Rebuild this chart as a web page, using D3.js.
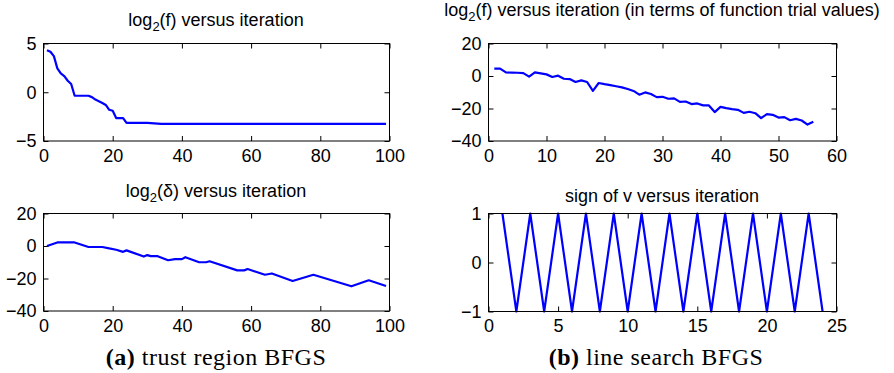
<!DOCTYPE html>
<html>
<head>
<meta charset="utf-8">
<script src="https://cdn.jsdelivr.net/npm/d3@7"></script>
<style>
  body { margin: 0; background: #fff; }
  svg { display: block; }
  .tick text { font-family: "Liberation Sans", Arial, Helvetica, sans-serif; font-size: 18px; fill: #000; }
  .tick line { stroke: #000; }
  .ptitle { font-family: "Liberation Sans", Arial, Helvetica, sans-serif; font-size: 18px; fill: #000; }
  .caption { font-family: "Liberation Serif", "DejaVu Serif", serif; font-size: 24px; letter-spacing: 0.5px; fill: #000; }
</style>
</head>
<body>
<div id="chart"></div>
<script>
// (a) trust region BFGS: log2(f) per iteration (breakpoints)
const trIterF = [1, 2, 3, 4, 5, 6, 7, 8, 9, 10, 11, 12, 13, 14, 15, 16, 17, 18, 19, 20, 21, 22, 23, 24, 30, 34, 99];
const trLogF  = [4.3, 4.15, 3.7, 2.45, 1.93, 1.66, 1.18, 0.84, -0.36, -0.36, -0.36, -0.36, -0.36, -0.5, -0.75, -0.92,
                 -1.1, -1.3, -1.8, -1.9, -2.65, -2.65, -2.65, -3.15, -3.15, -3.25, -3.25];

// (a) trust region BFGS: log2(delta)
const trIterD = [1, 4, 9, 13, 17, 19, 21, 23, 24, 29, 30, 31, 33, 36, 38, 40, 41, 45, 47, 48, 56, 58, 59, 64, 66, 72, 78, 89, 94, 99];
const trLogD  = [0, 2.2, 2.2, -0.6, -0.6, -1.5, -2.3, -3.6, -2.7, -6.5, -5.6, -6.25, -6.25, -8.75, -8.1, -8.1, -6.9, -10, -10,
                 -9.4, -15, -15, -14.2, -17.7, -16.9, -21.5, -17.7, -24.8, -21.1, -24.6];

// (b) line search BFGS: log2(f) in terms of function trial values
const lsIterF = d3.range(1, 57);
const lsLogF  = [4.5, 4.5, 2.2, 2.1, 2.0, 1.8, -0.4, 2.2, 1.6, 1.0, -0.6, 0.2, -1.7, -1.9, -3.7, -2.7, -3.7, -9.1, -4.3, -5.0,
                 -5.6, -6.3, -7.0, -8.0, -9.2, -11.5, -10.1, -11.1, -13.0, -12.8, -14.0, -13.8, -15.9, -15.7, -17.3, -16.9,
                 -18.1, -18.1, -22.2, -19.0, -19.8, -20.4, -20.8, -22.7, -22.0, -22.9, -25.9, -23.5, -23.9, -25.6, -25.3,
                 -27.2, -26.4, -27.4, -29.9, -28.2];

// (b) sign of v
const lsIterV = d3.range(1, 25);
const lsSignV = [1, -1, 1, -1, 1, -1, 1, -1, 1, -1, 1, -1, 1, -1, 1, -1, 1, -1, 1, -1, 1, -1, 1, -1];

// tick labels
const ticksIter100 = [0, 20, 40, 60, 80, 100];
const ticksIter60  = [0, 10, 20, 30, 40, 50, 60];
const ticksIter25  = [0, 5, 10, 15, 20, 25];
const ticksF5      = [-5, 0, 5];
const ticks20      = [-40, -20, 0, 20];
const ticksSign    = [-1, 0, 1];

const svg = d3.select('#chart').append('svg')
  .attr('width', 894)
  .attr('height', 373);

const fmt = d3.format('d');

class LinePanel {

  constructor(_config, _xs, _ys) {
    this.config = {
      left: _config.left,
      top: _config.top,
      width: _config.width,
      height: _config.height,
      xDomain: _config.xDomain,
      yDomain: _config.yDomain,
      xTicks: _config.xTicks,
      yTicks: _config.yTicks,
      title: _config.title,
      titleX: _config.titleX,
      titleY: _config.titleY,
      tickLen: 5
    }
    this.xs = _xs;
    this.ys = _ys;
    this.initVis();
  }

  initVis() {
    let vis = this;
    let c = vis.config;

    vis.g = svg.append('g')
      .attr('transform', `translate(${c.left},${c.top})`);

    vis.x = d3.scaleLinear().domain(c.xDomain).range([0, c.width]);
    vis.y = d3.scaleLinear().domain(c.yDomain).range([c.height, 0]);

    // matlab style: ticks point inward on all four sides
    vis.g.append('g')
      .attr('transform', `translate(0,${c.height})`)
      .call(d3.axisBottom(vis.x).tickValues(c.xTicks).tickSize(-c.tickLen).tickPadding(8).tickFormat(fmt));
    vis.g.append('g')
      .call(d3.axisTop(vis.x).tickValues(c.xTicks).tickSize(-c.tickLen).tickFormat(''));
    vis.g.append('g')
      .call(d3.axisLeft(vis.y).tickValues(c.yTicks).tickSize(-c.tickLen).tickPadding(7).tickFormat(fmt));
    vis.g.append('g')
      .attr('transform', `translate(${c.width},0)`)
      .call(d3.axisRight(vis.y).tickValues(c.yTicks).tickSize(-c.tickLen).tickFormat(''));
    vis.g.selectAll('.domain').remove();

    let line = d3.line()
      .x((d, i) => vis.x(vis.xs[i]))
      .y(d => vis.y(d));

    vis.g.append('path')
      .datum(vis.ys)
      .attr('d', line)
      .attr('fill', 'none')
      .attr('stroke', '#0000ff')
      .attr('stroke-width', 2.2)
      .attr('stroke-linejoin', 'round');

    vis.g.append('rect')
      .attr('width', c.width)
      .attr('height', c.height)
      .attr('fill', 'none')
      .attr('stroke', '#000')
      .attr('stroke-width', 1);

    let t = svg.append('text')
      .attr('class', 'ptitle')
      .attr('x', c.titleX)
      .attr('y', c.titleY)
      .attr('text-anchor', 'middle');
    c.title.forEach(p => {
      let s = t.append('tspan').text(p.t);
      if (p.sub) s.attr('font-size', '13px').attr('dy', 5);
      if (p.after) s.attr('dy', -5);
    });
  }
}

new LinePanel({
  left: 43.5, top: 43.5, width: 346, height: 97.5,
  xDomain: [0, 100], yDomain: [-5, 5],
  xTicks: ticksIter100, yTicks: ticksF5,
  title: [{t: 'log'}, {t: '2', sub: true}, {t: '(f) versus iteration', after: true}],
  titleX: 216, titleY: 26
}, trIterF, trLogF);

new LinePanel({
  left: 43.5, top: 213.5, width: 346, height: 97.5,
  xDomain: [0, 100], yDomain: [-40, 20],
  xTicks: ticksIter100, yTicks: ticks20,
  title: [{t: 'log'}, {t: '2', sub: true}, {t: '(\u03b4) versus iteration', after: true}],
  titleX: 216, titleY: 197
}, trIterD, trLogD);

new LinePanel({
  left: 488.5, top: 43.5, width: 348, height: 97.5,
  xDomain: [0, 60], yDomain: [-40, 20],
  xTicks: ticksIter60, yTicks: ticks20,
  title: [{t: 'log'}, {t: '2', sub: true}, {t: '(f) versus iteration (in terms of function trial values)', after: true}],
  titleX: 662, titleY: 16
}, lsIterF, lsLogF);

new LinePanel({
  left: 488.5, top: 213.5, width: 348, height: 98,
  xDomain: [0, 25], yDomain: [-1, 1],
  xTicks: ticksIter25, yTicks: ticksSign,
  title: [{t: 'sign of v versus iteration'}],
  titleX: 662, titleY: 202
}, lsIterV, lsSignV);

// sub-captions
function caption(x, letter, rest) {
  let t = svg.append('text')
    .attr('class', 'caption')
    .attr('x', x)
    .attr('y', 365)
    .attr('text-anchor', 'middle');
  t.append('tspan').attr('font-weight', 'bold').text(`(${letter})`);
  t.append('tspan').text(' ' + rest);
}
caption(216, 'a', 'trust region BFGS');
caption(656, 'b', 'line search BFGS');
</script>
</body>
</html>
